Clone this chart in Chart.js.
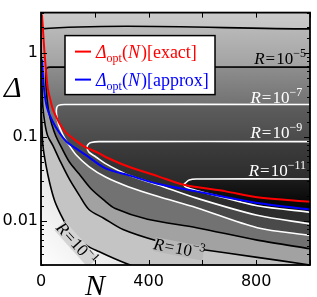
<!DOCTYPE html>
<html>
<head>
<meta charset="utf-8">
<script src="https://cdn.jsdelivr.net/npm/chart.js@4.4.1/dist/chart.umd.min.js"></script>
<style>
html, body { margin: 0; padding: 0; background: #fff; }
canvas { display: block; }
</style>
</head>
<body>
<canvas id="chart" width="317" height="297"></canvas>
<script>
// axis ranges
const N_MIN = 0, N_MAX = 1000, D_MIN = 0.003, D_MAX = 3;

// optimal Delta(N)
const exactN = [3.6, 7, 11, 18, 25, 33, 44, 58, 69, 91, 116, 160, 215, 240, 324, 433, 531, 687, 804, 1000];
const exactD = [2.85, 1.97, 1.23, 0.641, 0.380, 0.292, 0.214, 0.169, 0.144, 0.114, 0.0975, 0.0770, 0.0641, 0.0577, 0.0444, 0.0342, 0.0270, 0.0225, 0.0192, 0.0169];
const approxN = [3.6, 11, 22, 40, 69, 95, 124, 167, 240, 324, 433, 578, 687, 804, 1000];
const approxD = [0.832, 0.380, 0.225, 0.160, 0.111, 0.0877, 0.0750, 0.0608, 0.0422, 0.0351, 0.0277, 0.0225, 0.0192, 0.0164, 0.0137];

// contour lines R = 10^-1 ... 10^-11 (upper branch first, then lower branch)
const r1N = [0, 3.6, 7, 18, 33, 51, 73, 98, 127, 171, 215, 270, 342];
const r1D = [0.257, 0.133, 0.0791, 0.0468, 0.0277, 0.0173, 0.0120, 0.00855, 0.00624, 0.00507, 0.00433, 0.00360, 0.00290];
const r3N = [1000, 0, 0, 3.6, 7, 15, 25, 44, 69, 105, 142, 178, 233, 305, 433, 513, 578, 804, 1000];
const r3D = [1.92, 1.92, 1.08, 0.433, 0.225, 0.141, 0.1026, 0.0791, 0.0533, 0.0316, 0.0203, 0.0137, 0.0108, 0.00791, 0.00577, 0.00507, 0.00468, 0.00370, 0.0030];
const r5N = [1000, 33, 22, 18, 18, 22, 29, 40, 55, 76, 105, 142, 185, 233, 276, 396, 578, 804, 1000];
const r5D = [0.675, 0.675, 0.658, 0.608, 0.433, 0.292, 0.197, 0.141, 0.1026, 0.0750, 0.0506, 0.0361, 0.0243, 0.0178, 0.0141, 0.0105, 0.00832, 0.00593, 0.00468];
const r7N = [1000, 87, 65, 58, 58, 65, 80, 98, 131, 178, 240, 324, 433, 578, 804, 1000];
const r7D = [0.243, 0.243, 0.237, 0.219, 0.183, 0.141, 0.108, 0.0855, 0.0608, 0.0444, 0.0333, 0.0256, 0.0197, 0.0144, 0.00832, 0.00675];
const r9N = [1000, 215, 186, 175, 171, 178, 204, 240, 287, 335, 433, 578, 804, 1000];
const r9D = [0.0877, 0.0877, 0.0855, 0.0811, 0.0750, 0.0658, 0.0577, 0.0481, 0.0400, 0.0342, 0.0270, 0.0187, 0.0117, 0.00925];
const r11N = [1000, 578, 551, 538, 531, 542, 578, 644, 804, 1000];
const r11D = [0.0316, 0.0316, 0.0308, 0.0285, 0.0270, 0.0250, 0.0231, 0.0203, 0.0152, 0.0127];

// contour labels: exponent and anchor point in data units
const contourLabels = [
    { exp: '\u22121', n: 131, d: 0.00532, color: '#000', anchor: 'center', angle: 48, knock: '#d4d4d4' },
    { exp: '\u22123', n: 513, d: 0.00466, color: '#000', anchor: 'center', angle: 11, knock: '#b8b8b8' },
    { exp: '\u22125', n: 985, d: 0.731, color: '#000', anchor: 'right', angle: 0 },
    { exp: '\u22127', n: 971, d: 0.250, color: '#fff', anchor: 'right', angle: 0 },
    { exp: '\u22129', n: 971, d: 0.0975, color: '#fff', anchor: 'right', angle: 0 },
    { exp: '\u221211', n: 985, d: 0.0342, color: '#fff', anchor: 'right', angle: 0 },
];

const SERIF = '"Liberation Serif", "DejaVu Serif", serif';
const pts = (ns, ds) => ns.map((n, i) => ({ x: n, y: ds[i] }));

function lineSet(points, color, width, order) {
    return { data: points, borderColor: color, borderWidth: width, pointRadius: 0, fill: false, tension: 0.3, order };
}

// band shading: vertical ramp between the band's own upper branch and the next one
function shade(dTop, dBottom, cTop, cBottom) {
    return (context) => {
        const chart = context.chart;
        if (!chart.chartArea) {
            return cBottom;
        }
        const y = chart.scales.y;
        const g = chart.ctx.createLinearGradient(0, y.getPixelForValue(dTop), 0, y.getPixelForValue(dBottom));
        g.addColorStop(0, cTop);
        g.addColorStop(1, cBottom);
        return g;
    };
}

function fillSet(points, color, order) {
    return { data: points, borderColor: 'rgba(0,0,0,0)', borderWidth: 1, backgroundColor: color, pointRadius: 0, fill: 'shape', tension: 0.3, order };
}

const r1Fill = [{ x: N_MIN, y: D_MAX }, { x: N_MAX, y: D_MAX }, { x: N_MAX, y: D_MIN * 0.9 }]
    .concat(pts(r1N, r1D).reverse());

const datasets = [
    lineSet(pts(exactN, exactD), '#ff0000', 2, 0),
    lineSet(pts(approxN, approxD), '#0000ff', 2, 1),
    lineSet(pts(r1N, r1D), '#000', 1.6, 5),
    lineSet(pts(r3N, r3D), '#000', 1.6, 5),
    lineSet(pts(r5N, r5D), '#000', 1.6, 5),
    lineSet(pts(r7N, r7D), '#fff', 1.6, 5),
    lineSet(pts(r9N, r9D), '#fff', 1.6, 5),
    lineSet(pts(r11N, r11D), '#fff', 1.6, 5),
    fillSet(r1Fill, shade(D_MAX, r3D[0], '#cbcbcb', '#c4c4c4'), 20),
    fillSet(pts(r3N, r3D), shade(r3D[0], r5D[0], '#b8b8b8', '#a2a2a2'), 19),
    fillSet(pts(r5N, r5D), shade(r5D[0], r7D[0], '#8e8e8e', '#727272'), 18),
    fillSet(pts(r7N, r7D), shade(r7D[0], r9D[0], '#5e5e5e', '#4a4a4a'), 17),
    fillSet(pts(r9N, r9D), shade(r9D[0], r11D[0], '#3e3e3e', '#2c2c2c'), 16),
    fillSet(pts(r11N, r11D), shade(r11D[0], exactD[exactD.length - 1], '#1c1c1c', '#080808'), 15),
];

function fontOf(r) {
    return (r.it ? 'italic ' : '') + r.size + 'px ' + SERIF;
}

function measureRuns(ctx, runs) {
    let w = 0;
    runs.forEach((r) => {
        ctx.font = fontOf(r);
        w += ctx.measureText(r.t).width + (r.gap || 0);
    });
    return w;
}

function drawRuns(ctx, runs, x, y, color) {
    ctx.fillStyle = color;
    ctx.textAlign = 'left';
    ctx.textBaseline = 'alphabetic';
    let cx = x;
    runs.forEach((r) => {
        ctx.font = fontOf(r);
        ctx.fillText(r.t, cx, y + (r.dy || 0));
        cx += ctx.measureText(r.t).width + (r.gap || 0);
    });
}

const labelRuns = (exp) => [
    { t: 'R', it: true, size: 17, gap: 1 },
    { t: '=', size: 17, gap: 1 },
    { t: '10', size: 17 },
    { t: exp, size: 12, dy: -7 },
];

const legendRuns = (tag) => [
    { t: '\u0394', it: true, size: 18 },
    { t: 'opt', size: 12, dy: 4 },
    { t: '(', size: 18 },
    { t: 'N', it: true, size: 18, gap: 1 },
    { t: ')', size: 18 },
    { t: '[' + tag + ']', size: 18 },
];

const decor = {
    id: 'decor',
    beforeDatasetsDraw(chart) {
        const { ctx, chartArea: a } = chart;
        const g = ctx.createLinearGradient(a.left, a.bottom, a.left + 90, a.bottom - 90);
        g.addColorStop(0, '#fefefe');
        g.addColorStop(1, '#d4d4d4');
        ctx.save();
        ctx.fillStyle = g;
        ctx.fillRect(a.left, a.top, a.right - a.left, a.bottom - a.top);
        ctx.restore();
    },
    afterDatasetsDraw(chart) {
        const { ctx, chartArea: a, scales: { x, y } } = chart;
        ctx.save();
        ctx.beginPath();
        ctx.rect(a.left, a.top, a.right - a.left, a.bottom - a.top);
        ctx.clip();
        contourLabels.forEach((lab) => {
            const runs = labelRuns(lab.exp);
            ctx.save();
            ctx.translate(x.getPixelForValue(lab.n), y.getPixelForValue(lab.d));
            ctx.rotate(lab.angle * Math.PI / 180);
            const w = measureRuns(ctx, runs);
            const x0 = lab.anchor === 'right' ? -w : -w / 2;
            const y0 = lab.anchor === 'center' ? 5 : 0;
            if (lab.knock) {
                ctx.fillStyle = lab.knock;
                ctx.fillRect(x0 + 1, y0 - 12, w - 2, 14);
            }
            drawRuns(ctx, runs, x0, y0, lab.color);
            ctx.restore();
        });
        ctx.restore();

        // legend box
        const lx = a.left + 24, ly = a.top + 23;
        ctx.save();
        ctx.fillStyle = '#fff';
        ctx.fillRect(lx, ly, 150, 59);
        ctx.strokeStyle = '#000';
        ctx.lineWidth = 1.5;
        ctx.strokeRect(lx, ly, 150, 59);
        [['#ff0000', 'exact', 16], ['#0000ff', 'approx', 44]].forEach(([c, tag, dy]) => {
            ctx.strokeStyle = c;
            ctx.lineWidth = 2;
            ctx.beginPath();
            ctx.moveTo(lx + 10, ly + dy);
            ctx.lineTo(lx + 26, ly + dy);
            ctx.stroke();
            drawRuns(ctx, legendRuns(tag), lx + 31, ly + dy + 6, c);
        });
        ctx.restore();
    },
    afterDraw(chart) {
        const { ctx, chartArea: a, scales: { x, y } } = chart;
        ctx.save();
        ctx.strokeStyle = '#000';
        ctx.lineWidth = 1;
        ctx.beginPath();
        x.ticks.forEach((t) => {
            const px = Math.round(x.getPixelForValue(t.value)) + 0.5;
            ctx.moveTo(px, a.bottom);
            ctx.lineTo(px, a.bottom - 5);
            ctx.moveTo(px, a.top);
            ctx.lineTo(px, a.top + 5);
        });
        y.ticks.forEach((t) => {
            const l = Math.log10(t.value);
            const len = Math.abs(l - Math.round(l)) < 1e-6 ? 6 : 3;
            const py = Math.round(y.getPixelForValue(t.value)) + 0.5;
            ctx.moveTo(a.left, py);
            ctx.lineTo(a.left + len, py);
            ctx.moveTo(a.right, py);
            ctx.lineTo(a.right - len, py);
        });
        ctx.stroke();
        ctx.lineWidth = 1.8;
        ctx.strokeRect(a.left, a.top, a.right - a.left, a.bottom - a.top);

        // axis titles
        ctx.fillStyle = '#000';
        ctx.font = 'italic 30px ' + SERIF;
        ctx.textBaseline = 'alphabetic';
        ctx.textAlign = 'left';
        ctx.fillText('\u0394', 4, 97);
        ctx.fillText('N', 85, 295);
        ctx.restore();
    },
};

const tickFont = { family: '"DejaVu Sans", sans-serif', size: 16 };

new Chart(document.getElementById('chart'), {
    type: 'line',
    data: { datasets },
    options: {
        responsive: false,
        animation: false,
        layout: { padding: { top: 1, right: 1, left: 0, bottom: 0 } },
        plugins: { legend: { display: false }, tooltip: { enabled: false } },
        scales: {
            x: {
                type: 'linear',
                min: N_MIN,
                max: N_MAX,
                grid: { display: false, drawTicks: false, tickLength: 0 },
                border: { display: false },
                ticks: {
                    stepSize: 200,
                    autoSkip: false,
                    maxRotation: 0,
                    padding: 7,
                    color: '#000',
                    font: tickFont,
                    callback: (v) => (v % 400 === 0 ? String(v) : ''),
                },
                afterFit: (s) => { s.height = 32; },
            },
            y: {
                type: 'logarithmic',
                min: D_MIN,
                max: D_MAX,
                grid: { display: false, drawTicks: false, tickLength: 0 },
                border: { display: false },
                ticks: {
                    autoSkip: false,
                    padding: 3,
                    color: '#000',
                    font: tickFont,
                    callback: (v) => {
                        const l = Math.log10(v);
                        return Math.abs(l - Math.round(l)) < 1e-6 && l <= 0 ? String(Math.round(v * 100) / 100) : '';
                    },
                },
                afterFit: (s) => { s.width = 41; },
            },
        },
    },
    plugins: [decor],
});
</script>
</body>
</html>
